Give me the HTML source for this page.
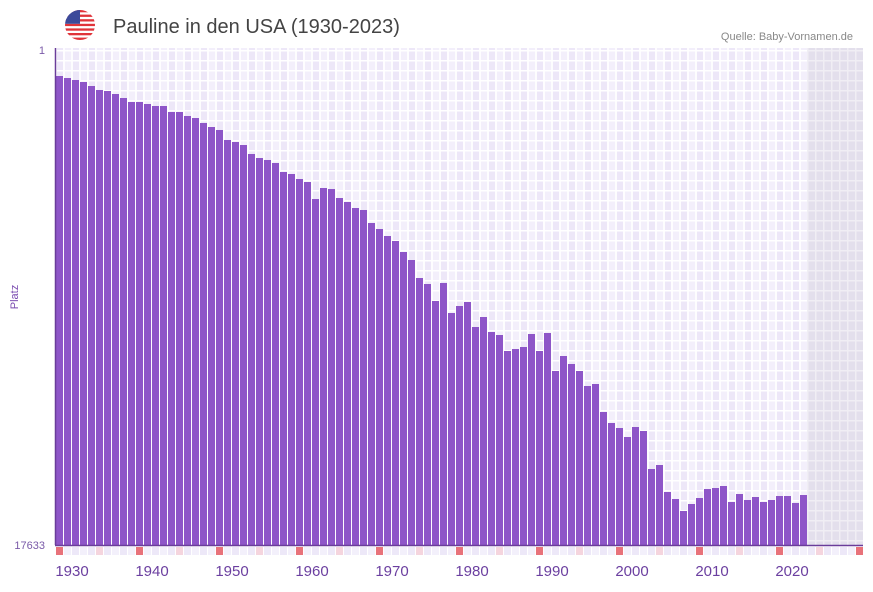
<!DOCTYPE html>
<html><head><meta charset="utf-8"><style>
body{margin:0;background:#fff;width:873px;height:587px;overflow:hidden;font-family:"Liberation Sans",sans-serif}
</style></head><body>
<svg id="s" width="873" height="587" xmlns="http://www.w3.org/2000/svg">
<defs>
<pattern id="g" x="55" y="50" width="16" height="10" patternUnits="userSpaceOnUse">
<rect width="8" height="10" fill="#ede7f8"/><rect x="8" width="8" height="10" fill="#f3effb"/>
<rect x="0" width="2" height="10" fill="#fff" opacity="0.9"/><rect x="8" width="2" height="10" fill="#fff" opacity="0.9"/>
<rect width="16" height="1.5" fill="#fff"/>
</pattern>
<pattern id="gg" x="55" y="50" width="8" height="10" patternUnits="userSpaceOnUse">
<rect width="8" height="10" fill="#e3dfec"/>
<rect width="1.5" height="10" fill="#f0eef4"/><rect width="8" height="1.5" fill="#f0eef4"/>
</pattern>
</defs>
<rect x="55" y="48" width="808" height="497" fill="url(#g)"/>
<rect x="807" y="48" width="56" height="497" fill="url(#gg)"/>
<g id="bars" fill="#8e56c8"></g>
<g id="mk"></g>
<line x1="55.5" y1="48" x2="55.5" y2="545" stroke="#6a3d9a" stroke-width="1.5"/>
<line x1="55" y1="545.5" x2="863" y2="545.5" stroke="#6a3d9a" stroke-width="1.5"/>
<text x="45" y="54" font-size="11" fill="#7a5aa8" text-anchor="end">1</text>
<text x="45" y="549" font-size="11" fill="#7a5aa8" text-anchor="end">17633</text>
<text transform="translate(18,297) rotate(-90)" font-size="11" fill="#7a4bb0" text-anchor="middle">Platz</text>
<g id="xl" font-size="15" fill="#6b3fa0" text-anchor="middle"></g>
<text x="113" y="33" font-size="20" fill="#444">Pauline in den USA (1930-2023)</text>
<text x="853" y="40" font-size="11" fill="#888" text-anchor="end">Quelle: Baby-Vornamen.de</text>
<clipPath id="c"><circle cx="80" cy="25" r="15"/></clipPath>
<g clip-path="url(#c)">
<rect x="65" y="10" width="30" height="30" fill="#fff"/>
<rect x="65" y="10" width="30" height="2.3" fill="#e0343a"/>
<rect x="65" y="14.6" width="30" height="2.3" fill="#e0343a"/>
<rect x="65" y="19.2" width="30" height="2.3" fill="#e0343a"/>
<rect x="65" y="23.8" width="30" height="2.3" fill="#e0343a"/>
<rect x="65" y="28.4" width="30" height="2.3" fill="#e0343a"/>
<rect x="65" y="33" width="30" height="2.3" fill="#e0343a"/>
<rect x="65" y="37.6" width="30" height="2.4" fill="#e0343a"/>
<rect x="65" y="10" width="15" height="13.8" fill="#3c4a9a"/>
</g>
</svg>
<script>
var t=[76,78,80,82,86,90,91,94,98,102,102,104,106,106,112,112,116,118,123,127,130,140,142,145,154,158,160,163,172,174,179,182,199,188,189,198,202,208,210,223,229,236,241,252,260,278,284,301,283,313,306,302,327,317,332,335,351,349,347,334,351,333,371,356,364,371,386,384,412,423,428,437,427,431,469,465,492,499,511,504,498,489,488,486,502,494,500,497,502,500,496,496,503,495];
var ns="http://www.w3.org/2000/svg",b=document.getElementById('bars'),m=document.getElementById('mk'),xl=document.getElementById('xl');
t.forEach(function(y,i){var r=document.createElementNS(ns,'rect');r.setAttribute('x',55+8*i+(i==0?0:1));r.setAttribute('y',y);r.setAttribute('width',i==0?8:7);r.setAttribute('height',545-y);b.appendChild(r);});
for(var i=0;i<101;i++){var r=document.createElementNS(ns,'rect');r.setAttribute('x',56+8*i);r.setAttribute('y',547);r.setAttribute('width',7);r.setAttribute('height',8);
var c=i%10==0?'#e8727a':(i%10==5?'#f5d5de':(i%2?'#f3f0fb':'#ede8f8'));r.setAttribute('fill',c);m.appendChild(r);}
for(var k=0;k<10;k++){var tx=document.createElementNS(ns,'text');tx.setAttribute('x',72+80*k);tx.setAttribute('y',576);tx.textContent=1930+10*k;xl.appendChild(tx);}
</script>
</body></html>
